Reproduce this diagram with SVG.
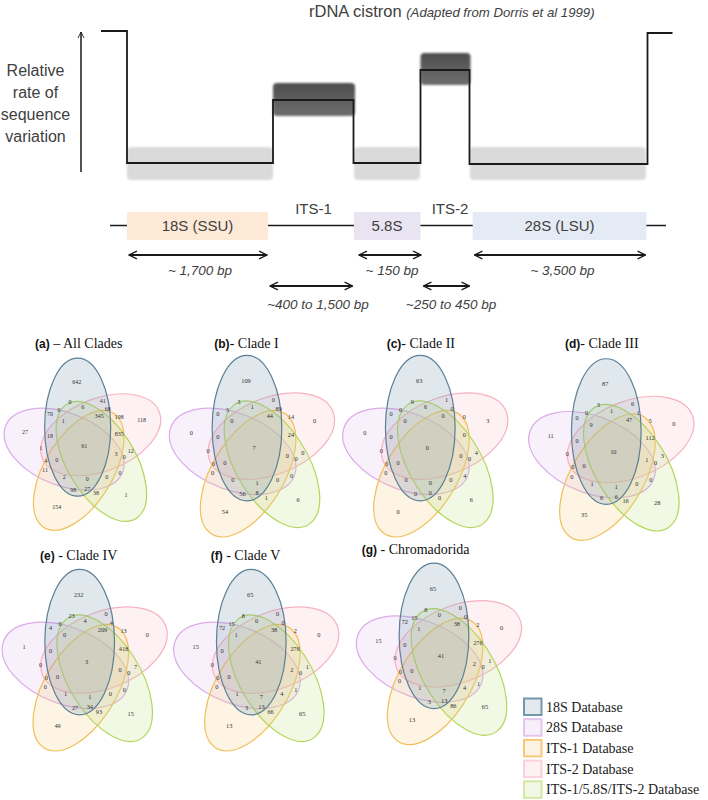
<svg xmlns="http://www.w3.org/2000/svg" xmlns:xlink="http://www.w3.org/1999/xlink" width="708" height="800" viewBox="0 0 708 800">
<style>
.sans{font-family:"Liberation Sans",Arial,sans-serif;fill:#404040}
.ital{font-family:"Liberation Sans",Arial,sans-serif;font-style:italic;fill:#404040;font-size:13.5px;text-anchor:middle}
.gl{font-family:"Liberation Sans",Arial,sans-serif;fill:#404040;font-size:15px;text-anchor:middle}
.ln{fill:none;stroke:#1a1a1a;stroke-width:1.8}
.arr{fill:none;stroke:#1a1a1a;stroke-width:1.8;marker-start:url(#ah);marker-end:url(#ah)}
.lgt{fill:#dadada}
.drk{fill:url(#dg)}
.e{vector-effect:non-scaling-stroke;stroke-width:1.2}
.eb{fill:#7f9db3;fill-opacity:.24;stroke:#5b7f95}
.ep{fill:#dcb8ea;fill-opacity:.2;stroke:#dcaae8}
.ek{fill:#f8b8c4;fill-opacity:.2;stroke:#f6b2c1}
.eo{fill:#f8d08a;fill-opacity:.24;stroke:#f0c05a}
.eg{fill:#c6e08a;fill-opacity:.24;stroke:#b4d65a}
.vt{font-family:"Liberation Serif","Times New Roman",serif;font-size:6px;fill:#333;text-anchor:middle}
.tt{font-family:"Liberation Serif","Times New Roman",serif;font-size:14px;fill:#111}
.tb{font-family:"Liberation Sans",Arial,sans-serif;font-weight:bold;font-size:12px}
.lg{font-family:"Liberation Serif","Times New Roman",serif;font-size:14px;fill:#222}
</style>
<defs>
<linearGradient id="dg" x1="0" y1="0" x2="0" y2="1"><stop offset="0" stop-color="#4e4e4e"/><stop offset="1" stop-color="#6e6e6e"/></linearGradient>
<filter id="bl" x="-10%" y="-20%" width="120%" height="140%"><feGaussianBlur stdDeviation="0.8"/></filter>
<marker id="ah" viewBox="0 0 10 10" refX="9" refY="5" markerWidth="5.5" markerHeight="5.5" orient="auto-start-reverse"><path d="M1,1 L9,5 L1,9" fill="none" stroke="#1a1a1a" stroke-width="1.4"/></marker>
<marker id="ax" viewBox="0 0 10 10" refX="9" refY="5" markerWidth="5" markerHeight="5" orient="auto"><path d="M1,1 L9,5 L1,9" fill="none" stroke="#1a1a1a" stroke-width="1.2"/></marker>
<g id="venn5" transform="scale(0.9,1)">
<ellipse class="e ep" cx="-7.6" cy="-21.4" rx="36.7" ry="69" transform="rotate(288)"/>
<ellipse class="e ek" cx="-7.6" cy="-21.4" rx="36.7" ry="69" transform="rotate(72)"/>
<ellipse class="e eo" cx="-7.6" cy="-21.4" rx="36.7" ry="69" transform="rotate(216)"/>
<ellipse class="e eg" cx="-7.6" cy="-21.4" rx="36.7" ry="69" transform="rotate(144)"/>
<ellipse class="e eb" cx="-7.6" cy="-21.4" rx="36.7" ry="69"/>
</g>
</defs>
<rect width="708" height="800" fill="#fff"/>

<g id="rdna-title">
<text class="sans" x="309" y="16.5" font-size="16.5">rDNA cistron <tspan font-style="italic" font-size="13.2">(Adapted from Dorris et al 1999)</tspan></text>
</g>
<g id="axis-label">
<text class="sans" font-size="16" text-anchor="middle"><tspan x="35.5" y="76">Relative</tspan><tspan x="35.5" y="98">rate of</tspan><tspan x="35.5" y="120">sequence</tspan><tspan x="35.5" y="142">variation</tspan></text>
</g>
<g id="variation-profile">
<rect class="lgt" x="127" y="147" width="146" height="33" rx="4" filter="url(#bl)"/>
<rect class="lgt" x="354" y="147" width="66" height="33" rx="4" filter="url(#bl)"/>
<rect class="lgt" x="470" y="147" width="176" height="33" rx="4" filter="url(#bl)"/>
<rect class="drk" x="273" y="83" width="82" height="33" rx="4" filter="url(#bl)"/>
<rect class="drk" x="420.5" y="53" width="50" height="32" rx="4" filter="url(#bl)"/>
<path class="ln" d="M101,31 H127 V163 H273 V100 H353.5 V163 H420.5 V70 H469.5 V164 H647.5 V33 H672.5"/>
</g>
<g id="gene-bar">
<line x1="110" y1="225.5" x2="666" y2="225.5" stroke="#1a1a1a" stroke-width="1.6"/>
</g>
<g id="node-18S">
<rect x="127" y="212" width="141" height="28" fill="#fde9d6"/>
<text class="gl" x="197.5" y="231">18S (SSU)</text>
</g>
<g id="node-ITS1"><text class="gl" x="313.5" y="214">ITS-1</text></g>
<g id="node-58S">
<rect x="354" y="212" width="66.5" height="28" fill="#e8e4f1"/>
<text class="gl" x="387" y="231">5.8S</text>
</g>
<g id="node-ITS2"><text class="gl" x="450" y="214">ITS-2</text></g>
<g id="node-28S">
<rect x="472.7" y="212" width="173.7" height="28" fill="#e4ebf4"/>
<text class="gl" x="559.5" y="231">28S (LSU)</text>
</g>
<g id="connectors">
<line x1="81" y1="172" x2="81" y2="32" fill="none" stroke="#1a1a1a" stroke-width="1.5" marker-end="url(#ax)"/>
<line class="arr" x1="129" y1="255" x2="267" y2="255"/>
<line class="arr" x1="359" y1="255" x2="421" y2="255"/>
<line class="arr" x1="474.5" y1="255" x2="645.5" y2="255"/>
<line class="arr" x1="270" y1="286" x2="352.5" y2="286"/>
<line class="arr" x1="423.5" y1="286" x2="469.5" y2="286"/>
</g>
<g id="bp-labels">
<text class="ital" x="200" y="275">~ 1,700 bp</text>
<text class="ital" x="392" y="275">~ 150 bp</text>
<text class="ital" x="562.5" y="275">~ 3,500 bp</text>
<text class="ital" x="318" y="309">~400 to 1,500 bp</text>
<text class="ital" x="451" y="309">~250 to 450 bp</text>
</g>

<g id="title-a"><text class="tt" x="35" y="348"><tspan class="tb">(a)</tspan> – All Clades</text></g>
<g id="title-b"><text class="tt" x="214.3" y="348"><tspan class="tb">(b)</tspan>- Clade I</text></g>
<g id="title-c"><text class="tt" x="386.7" y="348"><tspan class="tb">(c)</tspan>- Clade II</text></g>
<g id="title-d"><text class="tt" x="565" y="348"><tspan class="tb">(d)</tspan>- Clade III</text></g>
<g id="title-e"><text class="tt" x="40" y="560"><tspan class="tb">(e)</tspan> - Clade IV</text></g>
<g id="title-f"><text class="tt" x="210.7" y="560"><tspan class="tb">(f)</tspan> - Clade V</text></g>
<g id="title-g"><text class="tt" x="361.7" y="554"><tspan class="tb">(g)</tspan> - Chromadorida</text></g>

<g id="venn-a" transform="translate(84.5,448.6)">
<use href="#venn5"/>
<g class="vt">
<text x="-7.8" y="-64.2">642</text><text x="-14.5" y="-44.2">0</text><text x="18.2" y="-45.9">41</text><text x="-1.8" y="-39.2">6</text><text x="-34.5" y="-32.6">70</text><text x="-25.5" y="-36.6">0</text><text x="23.2" y="-37.2">68</text><text x="14.8" y="-30.9">345</text><text x="34.8" y="-29.9">198</text><text x="57.2" y="-26.6">118</text><text x="-59.5" y="-14.9">27</text><text x="-21.2" y="-25.9">1</text><text x="-34.5" y="-10.9">18</text><text x="34.8" y="-12.9">835</text><text x="-0.2" y="-0.2">61</text><text x="-43.8" y="1.8">1</text><text x="46.2" y="4.1">12</text><text x="31.5" y="7.4">3</text><text x="-38.5" y="14.4">4</text><text x="-27.8" y="13.4">0</text><text x="39.8" y="10.1">0</text><text x="-39.5" y="23.4">11</text><text x="35.5" y="26.1">0</text><text x="-20.2" y="30.1">2</text><text x="2.8" y="32.8">0</text><text x="22.2" y="30.1">0</text><text x="-11.2" y="43.4">98</text><text x="2.8" y="42.4">27</text><text x="11.5" y="46.8">38</text><text x="41.5" y="48.4">1</text><text x="-27.8" y="60.1">154</text>
</g>
</g>

<g id="venn-b" transform="translate(254.2,450.7) scale(1.055)">
<use href="#venn5"/>
<g class="vt">
<text x="-7.8" y="-64.2">109</text><text x="-14.5" y="-44.2">3</text><text x="18.2" y="-45.9">0</text><text x="-1.8" y="-39.2">1</text><text x="-34.5" y="-32.6">0</text><text x="-25.5" y="-36.6">3</text><text x="23.2" y="-37.2">89</text><text x="14.8" y="-30.9">44</text><text x="34.8" y="-29.9">14</text><text x="57.2" y="-26.6">0</text><text x="-59.5" y="-14.9">0</text><text x="-21.2" y="-25.9">0</text><text x="-34.5" y="-10.9">0</text><text x="34.8" y="-12.9">24</text><text x="-0.2" y="-0.2">7</text><text x="-43.8" y="1.8">0</text><text x="46.2" y="4.1">0</text><text x="31.5" y="7.4">0</text><text x="-38.5" y="14.4">0</text><text x="-27.8" y="13.4">0</text><text x="39.8" y="10.1">0</text><text x="-39.5" y="23.4">0</text><text x="35.5" y="26.1">0</text><text x="-20.2" y="30.1">0</text><text x="2.8" y="32.8">1</text><text x="22.2" y="30.1">0</text><text x="-11.2" y="43.4">56</text><text x="2.8" y="42.4">8</text><text x="11.5" y="46.8">1</text><text x="41.5" y="48.4">6</text><text x="-27.8" y="60.1">54</text>
</g>
</g>

<g id="venn-c" transform="translate(427.5,450.7) scale(1.055)">
<use href="#venn5"/>
<g class="vt">
<text x="-7.8" y="-64.2">63</text><text x="-14.5" y="-44.2">9</text><text x="18.2" y="-45.9">1</text><text x="-1.8" y="-39.2">6</text><text x="-34.5" y="-32.6">0</text><text x="-25.5" y="-36.6">0</text><text x="23.2" y="-37.2">0</text><text x="14.8" y="-30.9">0</text><text x="34.8" y="-29.9">0</text><text x="57.2" y="-26.6">3</text><text x="-59.5" y="-14.9">0</text><text x="-21.2" y="-25.9">0</text><text x="-34.5" y="-10.9">0</text><text x="34.8" y="-12.9">0</text><text x="-0.2" y="-0.2">0</text><text x="-43.8" y="1.8">0</text><text x="46.2" y="4.1">4</text><text x="31.5" y="7.4">0</text><text x="-38.5" y="14.4">0</text><text x="-27.8" y="13.4">0</text><text x="39.8" y="10.1">0</text><text x="-39.5" y="23.4">0</text><text x="35.5" y="26.1">4</text><text x="-20.2" y="30.1">0</text><text x="2.8" y="32.8">0</text><text x="22.2" y="30.1">0</text><text x="-11.2" y="43.4">0</text><text x="2.8" y="42.4">0</text><text x="11.5" y="46.8">0</text><text x="41.5" y="48.4">6</text><text x="-27.8" y="60.1">0</text>
</g>
</g>

<g id="venn-d" transform="translate(613.5,454.1) scale(1.055)">
<use href="#venn5"/>
<g class="vt">
<text x="-7.8" y="-64.2">87</text><text x="-14.5" y="-44.2">3</text><text x="18.2" y="-45.9">6</text><text x="-1.8" y="-39.2">1</text><text x="-34.5" y="-32.6">0</text><text x="-25.5" y="-36.6">0</text><text x="23.2" y="-37.2">1</text><text x="14.8" y="-30.9">47</text><text x="34.8" y="-29.9">5</text><text x="57.2" y="-26.6">0</text><text x="-59.5" y="-14.9">11</text><text x="-21.2" y="-25.9">9</text><text x="-34.5" y="-10.9">0</text><text x="34.8" y="-12.9">112</text><text x="-0.2" y="-0.2">10</text><text x="-43.8" y="1.8">0</text><text x="46.2" y="4.1">3</text><text x="31.5" y="7.4">1</text><text x="-38.5" y="14.4">0</text><text x="-27.8" y="13.4">0</text><text x="39.8" y="10.1">0</text><text x="-39.5" y="23.4">0</text><text x="35.5" y="26.1">0</text><text x="-20.2" y="30.1">1</text><text x="2.8" y="32.8">1</text><text x="22.2" y="30.1">0</text><text x="-11.2" y="43.4">6</text><text x="2.8" y="42.4">6</text><text x="11.5" y="46.8">16</text><text x="41.5" y="48.4">28</text><text x="-27.8" y="60.1">35</text>
</g>
</g>

<g id="venn-e" transform="translate(86.9,664.7) scale(1.055)">
<use href="#venn5"/>
<g class="vt">
<text x="-7.8" y="-64.2">232</text><text x="-14.5" y="-44.2">23</text><text x="18.2" y="-45.9">0</text><text x="-1.8" y="-39.2">4</text><text x="-34.5" y="-32.6">4</text><text x="-25.5" y="-36.6">0</text><text x="23.2" y="-37.2">4</text><text x="14.8" y="-30.9">209</text><text x="34.8" y="-29.9">13</text><text x="57.2" y="-26.6">0</text><text x="-59.5" y="-14.9">1</text><text x="-21.2" y="-25.9">0</text><text x="-34.5" y="-10.9">0</text><text x="34.8" y="-12.9">418</text><text x="-0.2" y="-0.2">3</text><text x="-43.8" y="1.8">0</text><text x="46.2" y="4.1">7</text><text x="31.5" y="7.4">0</text><text x="-38.5" y="14.4">0</text><text x="-27.8" y="13.4">0</text><text x="39.8" y="10.1">0</text><text x="-39.5" y="23.4">0</text><text x="35.5" y="26.1">0</text><text x="-20.2" y="30.1">1</text><text x="2.8" y="32.8">1</text><text x="22.2" y="30.1">0</text><text x="-11.2" y="43.4">27</text><text x="2.8" y="42.4">34</text><text x="11.5" y="46.8">93</text><text x="41.5" y="48.4">15</text><text x="-27.8" y="60.1">49</text>
</g>
</g>

<g id="venn-f" transform="translate(258.5,664.7) scale(1.055)">
<use href="#venn5"/>
<g class="vt">
<text x="-7.8" y="-64.2">65</text><text x="-14.5" y="-44.2">8</text><text x="18.2" y="-45.9">0</text><text x="-1.8" y="-39.2">0</text><text x="-34.5" y="-32.6">72</text><text x="-25.5" y="-36.6">15</text><text x="23.2" y="-37.2">0</text><text x="14.8" y="-30.9">38</text><text x="34.8" y="-29.9">2</text><text x="57.2" y="-26.6">0</text><text x="-59.5" y="-14.9">15</text><text x="-21.2" y="-25.9">1</text><text x="-34.5" y="-10.9">0</text><text x="34.8" y="-12.9">276</text><text x="-0.2" y="-0.2">41</text><text x="-43.8" y="1.8">0</text><text x="46.2" y="4.1">1</text><text x="31.5" y="7.4">2</text><text x="-38.5" y="14.4">0</text><text x="-27.8" y="13.4">0</text><text x="39.8" y="10.1">0</text><text x="-39.5" y="23.4">0</text><text x="35.5" y="26.1">1</text><text x="-20.2" y="30.1">1</text><text x="2.8" y="32.8">7</text><text x="22.2" y="30.1">4</text><text x="-11.2" y="43.4">3</text><text x="2.8" y="42.4">13</text><text x="11.5" y="46.8">66</text><text x="41.5" y="48.4">65</text><text x="-27.8" y="60.1">13</text>
</g>
</g>

<g id="venn-g" transform="translate(441.2,658.4) scale(1.055)">
<use href="#venn5"/>
<g class="vt">
<text x="-7.8" y="-64.2">65</text><text x="-14.5" y="-44.2">8</text><text x="18.2" y="-45.9">0</text><text x="-1.8" y="-39.2">0</text><text x="-34.5" y="-32.6">72</text><text x="-25.5" y="-36.6">15</text><text x="23.2" y="-37.2">0</text><text x="14.8" y="-30.9">38</text><text x="34.8" y="-29.9">2</text><text x="57.2" y="-26.6">0</text><text x="-59.5" y="-14.9">15</text><text x="-21.2" y="-25.9">1</text><text x="-34.5" y="-10.9">0</text><text x="34.8" y="-12.9">276</text><text x="-0.2" y="-0.2">41</text><text x="-43.8" y="1.8">0</text><text x="46.2" y="4.1">1</text><text x="31.5" y="7.4">2</text><text x="-38.5" y="14.4">0</text><text x="-27.8" y="13.4">0</text><text x="39.8" y="10.1">0</text><text x="-39.5" y="23.4">0</text><text x="35.5" y="26.1">1</text><text x="-20.2" y="30.1">1</text><text x="2.8" y="32.8">7</text><text x="22.2" y="30.1">4</text><text x="-11.2" y="43.4">3</text><text x="2.8" y="42.4">13</text><text x="11.5" y="46.8">86</text><text x="41.5" y="48.4">65</text><text x="-27.8" y="60.1">13</text>
</g>
</g>

<g id="legend">
<rect x="524" y="698.5" width="17.5" height="16.5" fill="#e3e9ed" stroke="#7597aa" stroke-width="2"/>
<rect x="524" y="719.2" width="17.5" height="16.5" fill="#f7f0fb" stroke="#e5c4ef" stroke-width="2"/>
<rect x="524" y="739.9" width="17.5" height="16.5" fill="#fdf3e3" stroke="#f6c97a" stroke-width="2"/>
<rect x="524" y="760.6" width="17.5" height="16.5" fill="#fdf1f3" stroke="#fbd1d9" stroke-width="2"/>
<rect x="524" y="781.3" width="17.5" height="16.5" fill="#f3f8e6" stroke="#d3e8a0" stroke-width="2"/>
<text class="lg" x="546" y="711.5">18S Database</text>
<text class="lg" x="546" y="732.2">28S Database</text>
<text class="lg" x="546" y="752.9">ITS-1 Database</text>
<text class="lg" x="546" y="773.6">ITS-2 Database</text>
<text class="lg" x="546" y="794.3">ITS-1/5.8S/ITS-2 Database</text>
</g>
</svg>
